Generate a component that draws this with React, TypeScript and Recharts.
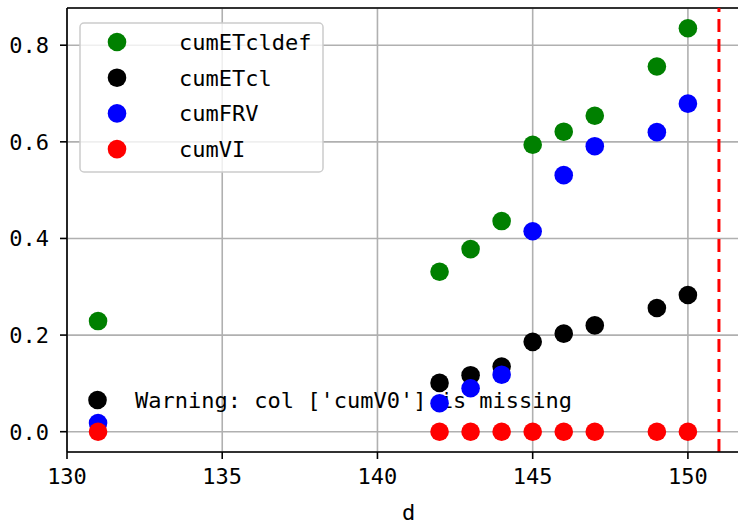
import {
  ScatterChart,
  Scatter,
  XAxis,
  YAxis,
  CartesianGrid,
  ReferenceLine,
  Customized,
} from "recharts";

const DAYS = [131, 142, 143, 144, 145, 146, 147, 149, 150];
const cumETcldef = [0.229, 0.331, 0.378, 0.436, 0.594, 0.621, 0.654, 0.756, 0.835];
const cumETcl = [null, 0.101, 0.117, 0.135, 0.186, 0.203, 0.22, 0.256, 0.283];
const cumFRV = [0.018, 0.059, 0.09, 0.118, 0.415, 0.531, 0.591, 0.62, 0.679];
const cumVI = [0, 0, 0, 0, 0, 0, 0, 0, 0];

const X_TICKS = [130, 135, 140, 145, 150];
const Y_TICKS = [0, 0.2, 0.4, 0.6, 0.8];
const CUTOFF_DAY = 151;

const SERIES = [
  { name: "cumETcldef", values: cumETcldef, color: "#008000" },
  { name: "cumETcl", values: cumETcl, color: "#000000" },
  { name: "cumFRV", values: cumFRV, color: "#0000ff" },
  { name: "cumVI", values: cumVI, color: "#ff0000" },
];

const WARNING = "Warning: col ['cumV0'] is missing";

const FONT = "'DejaVu Sans Mono', monospace";
const R = 9.3;

const toPoints = (values: (number | null)[]) =>
  DAYS.map((d, i) => ({ d, v: values[i] })).filter((p) => p.v !== null);

const dot = (color: string) => (props: any) =>
  <circle cx={props.cx} cy={props.cy} r={R} fill={color} />;

function Overlay() {
  return (
    <g>
      <rect
        x={80}
        y={23}
        width={243}
        height={149}
        rx={4}
        fill="#ffffff"
        fillOpacity={0.8}
        stroke="#cccccc"
        strokeWidth={1.5}
      />
      {SERIES.map((s, i) => (
        <g key={s.name}>
          <circle cx={117} cy={42 + i * 35.7} r={R} fill={s.color} />
          <text
            x={179}
            y={42 + i * 35.7}
            dy="0.36em"
            fontFamily={FONT}
            fontSize={22}
            fill="#000"
          >
            {s.name}
          </text>
        </g>
      ))}
      <circle cx={97.5} cy={400} r={R} fill="#000000" />
      <text x={135} y={400} dy="0.36em" fontFamily={FONT} fontSize={22} fill="#000">
        {WARNING}
      </text>
    </g>
  );
}

export default function App() {
  return (
    <div
      style={{
        position: "absolute",
        left: 0,
        top: 0,
        width: 738,
        height: 525,
        overflow: "hidden",
        background: "#fff",
      }}
    >
      <ScatterChart
        width={760}
        height={525}
        margin={{ top: 8, right: 10, bottom: 0, left: 7 }}
      >
        <CartesianGrid stroke="#b0b0b0" strokeWidth={1.6} />
        <XAxis
          type="number"
          dataKey="d"
          domain={[130, 152]}
          ticks={X_TICKS}
          allowDataOverflow
          height={73}
          tickSize={7}
          tickMargin={9}
          axisLine={{ stroke: "#000", strokeWidth: 1.6 }}
          tickLine={{ stroke: "#000", strokeWidth: 1.6 }}
          tick={{ fill: "#000", fontFamily: FONT, fontSize: 22 }}
          label={{
            value: "d",
            position: "insideBottom",
            offset: 5,
            fill: "#000",
            fontFamily: FONT,
            fontSize: 22,
          }}
        />
        <YAxis
          type="number"
          dataKey="v"
          domain={[-0.042, 0.877]}
          ticks={Y_TICKS}
          allowDataOverflow
          width={60}
          tickSize={7}
          tickMargin={11}
          tickFormatter={(v: number) => v.toFixed(1)}
          axisLine={{ stroke: "#000", strokeWidth: 1.6 }}
          tickLine={{ stroke: "#000", strokeWidth: 1.6 }}
          tick={{ fill: "#000", fontFamily: FONT, fontSize: 22 }}
        />
        <ReferenceLine y={0.877} stroke="#000" strokeWidth={1.6} />
        <ReferenceLine
          x={CUTOFF_DAY}
          stroke="#ff0000"
          strokeWidth={3}
          strokeDasharray="13 7"
        />
        {SERIES.map((s) => (
          <Scatter
            key={s.name}
            name={s.name}
            data={toPoints(s.values)}
            fill={s.color}
            shape={dot(s.color)}
            isAnimationActive={false}
          />
        ))}
        <Customized component={<Overlay />} />
      </ScatterChart>
    </div>
  );
}
